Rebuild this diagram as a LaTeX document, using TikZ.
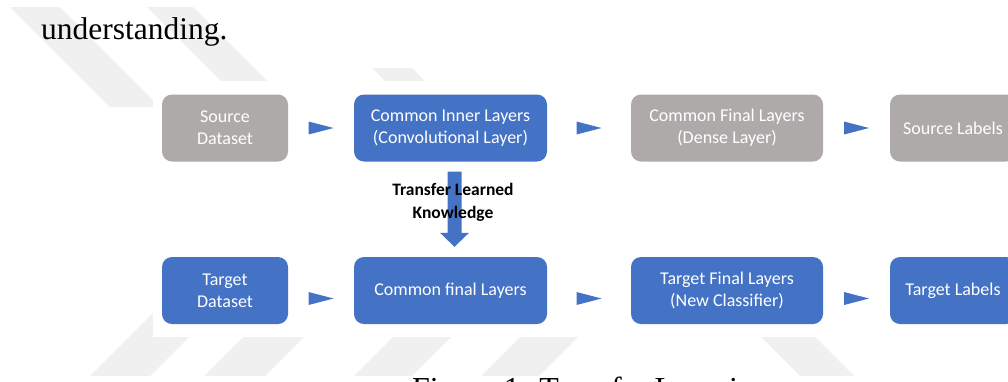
\documentclass[tikz,border=0pt]{standalone}
\usepackage{fontspec}
\setmainfont{Liberation Serif}
\newfontfamily\carlito{Carlito}
\usetikzlibrary{calc}
\definecolor{boxblue}{HTML}{4472C4}
\definecolor{boxgray}{HTML}{AEAAAA}
\definecolor{wm}{HTML}{F0F0F0}
\tikzset{
  box/.style={rounded corners=10pt, minimum height=67pt, inner sep=0pt, align=center,
    text=white, font=\carlito\fontsize{18}{22}\selectfont},
  bluebox/.style={box, fill=boxblue},
  graybox/.style={box, fill=boxgray},
  tri/.style={fill=boxblue},
  stripe/.style={fill=wm},
  bodytext/.style={inner sep=0pt, anchor=base west, font=\fontsize{31.5}{36}\selectfont}
}
\begin{document}
\begin{tikzpicture}[x=1pt,y=-1pt]
\useasboundingbox (0,0) rectangle (1008,381);
\begin{scope}
\clip (0,0) rectangle (1008,381);
% faint watermark stripes
\fill[stripe] (10,7) -- (60,7) -- (160,107) -- (110,107) -- cycle;
\fill[stripe] (147,7) -- (193,7) -- (293,107) -- (247,107) -- cycle;
\fill[stripe] (372,68) -- (412,68) -- (452,108) -- (412,108) -- cycle;
\fill[stripe] (160,306) -- (220,306) -- (150,376) -- (90,376) -- cycle;
\fill[stripe] (311,330) -- (250,330) -- (204,376) -- (265,376) -- cycle;
\fill[stripe] (458,330) -- (400,330) -- (354,376) -- (412,376) -- cycle;
\fill[stripe] (585,330) -- (527,330) -- (481,376) -- (539,376) -- cycle;
\fill[stripe] (754,330) -- (808,330) -- (854,376) -- (800,376) -- cycle;
% white panel of the diagram
\fill[white] (153,81) rectangle (1030,337);

% nodes
\node[graybox, minimum width=126pt] (src) at (225,128) {Source\\Dataset};
\node[bluebox, minimum width=193pt] (cil) at (450.5,128) {Common Inner Layers\\(Convolutional Layer)};
\node[graybox, minimum width=192pt] (cfl) at (727,128) {Common Final Layers\\(Dense Layer)};
\node[graybox, minimum width=126pt] (sl) at (953,128) {Source Labels};

\node[bluebox, minimum width=126pt] (tgt) at (225,290.5) {Target\\Dataset};
\node[bluebox, minimum width=193pt] (cfn) at (450.5,290.5) {Common final Layers};
\node[bluebox, minimum width=192pt] (tfl) at (727,290.5) {Target Final Layers\\(New Classifier)};
\node[bluebox, minimum width=126pt] (tl) at (953,290.5) {Target Labels};

% triangle connectors
\foreach \a/\b/\dy in {src/cil/0, cil/cfl/0, cfl/sl/0, tgt/cfn/8, cfn/tfl/8, tfl/tl/8}{
  \fill[tri] ($(\a.east)!0.5!(\b.west)+(-12.5,\dy-6.5)$) -- ++(25,6.5) -- ++(-25,6.5) -- cycle;
}

% block arrow down
\coordinate (ka) at ($(cil.south)+(4,10)$);
\coordinate (kb) at ($(cfn.north)+(4,-10)$);
\fill[boxblue] ($(ka)+(-7,0)$) -- ($(ka)+(7,0)$) -- ($(kb)+(7,-14)$) -- ($(kb)+(14.5,-14)$)
  -- (kb) -- ($(kb)+(-14.5,-14)$) -- ($(kb)+(-7,-14)$) -- cycle;
\node[align=center, inner sep=0pt, font=\carlito\bfseries\fontsize{17.5}{23}\selectfont] (lbl)
  at (453,202) {Transfer Learned\\Knowledge};

% surrounding text
\node[bodytext] (und) at (41,39) {understanding.};
\node[bodytext, font=\fontsize{32}{36}\selectfont] (cap) at (412,399) {Figure 1: Transfer Learning};
\end{scope}
\end{tikzpicture}
\end{document}
